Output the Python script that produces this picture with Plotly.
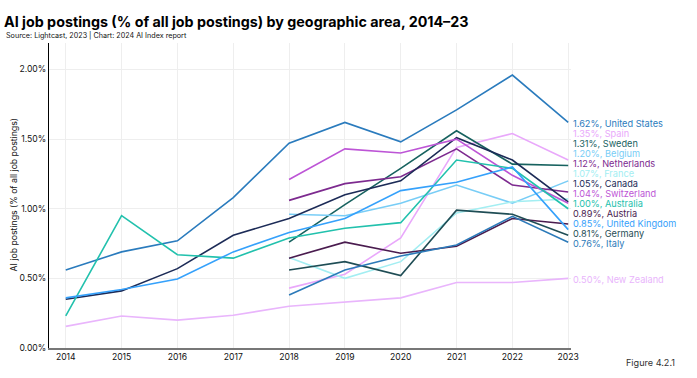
import plotly.graph_objects as go

years = [2014, 2015, 2016, 2017, 2018, 2019, 2020, 2021, 2022, 2023]

united_states = [0.56, 0.69, 0.77, 1.08, 1.47, 1.62, 1.48, 1.71, 1.96, 1.62]
spain = [None, None, None, None, 0.43, 0.53, 0.79, 1.44, 1.54, 1.35]
sweden = [None, None, None, None, 0.76, 1.03, 1.29, 1.56, 1.32, 1.31]
belgium = [None, None, None, None, 0.96, 0.95, 1.04, 1.17, 1.04, 1.20]
netherlands = [None, None, None, None, 1.06, 1.18, 1.23, 1.43, 1.17, 1.12]
france = [None, None, None, None, 0.65, 0.50, 0.62, 0.97, 1.05, 1.07]
canada = [0.35, 0.41, 0.57, 0.81, 0.93, 1.10, 1.20, 1.51, 1.35, 1.05]
switzerland = [None, None, None, None, 1.21, 1.43, 1.40, 1.50, 1.24, 1.04]
australia = [0.23, 0.95, 0.67, 0.645, 0.79, 0.86, 0.90, 1.35, 1.29, 1.00]
austria = [None, None, None, None, 0.645, 0.76, 0.68, 0.73, 0.93, 0.89]
united_kingdom = [0.36, 0.42, 0.495, 0.69, 0.83, 0.93, 1.13, 1.19, 1.30, 0.85]
germany = [None, None, None, None, 0.56, 0.62, 0.52, 0.99, 0.96, 0.81]
italy = [None, None, None, None, 0.38, 0.56, 0.66, 0.74, 0.945, 0.76]
new_zealand = [0.155, 0.23, 0.20, 0.235, 0.30, 0.33, 0.36, 0.47, 0.47, 0.50]

y_ticks = [0, 0.5, 1.0, 1.5, 2.0]
y_tick_labels = ["0.00%", "0.50%", "1.00%", "1.50%", "2.00%"]

series = [
    ("United States", united_states, "#2a7bbd"),
    ("Spain", spain, "#e9a8fb"),
    ("Sweden", sweden, "#17625f"),
    ("Belgium", belgium, "#78cdf6"),
    ("Netherlands", netherlands, "#7d2a8f"),
    ("France", france, "#a3eef2"),
    ("Canada", canada, "#1c2b57"),
    ("Switzerland", switzerland, "#bd55d6"),
    ("Australia", australia, "#22c1ad"),
    ("Austria", austria, "#4a1c4f"),
    ("United Kingdom", united_kingdom, "#35a1fb"),
    ("Germany", germany, "#1f4d55"),
    ("Italy", italy, "#2c7ab9"),
    ("New Zealand", new_zealand, "#e9b5fc"),
]

FONT = "Inter, Liberation Sans, Arial, sans-serif"
Y_MAX = 2.19
PLOT_H = 305.0
SPACING = 10.0 / PLOT_H * Y_MAX  # label spacing in data units

fig = go.Figure()
for name, vals, color in series:
    fig.add_trace(go.Scatter(x=years, y=vals, mode="lines", name=name,
                             line=dict(color=color, width=1.6),
                             connectgaps=False, showlegend=False))

# end labels, dodged upward from the lowest
ordered = sorted(series, key=lambda s: s[1][-1])
label_pos = {}
prev = None
for name, vals, color in ordered:
    y = vals[-1]
    if prev is not None and y < prev + SPACING:
        y = prev + SPACING
    label_pos[name] = y
    prev = y

annotations = []
for name, vals, color in series:
    annotations.append(dict(
        x=years[-1], y=label_pos[name], xref="x", yref="y",
        text=f"{vals[-1]:.2f}%, {name}", showarrow=False,
        xanchor="left", yanchor="middle", xshift=4, yshift=-1,
        borderpad=0,
        font=dict(family=FONT, size=9.2, color=color)))

annotations.append(dict(
    x=-0.0865, y=1.026, xref="paper", yref="paper",
    text="Source: Lightcast, 2023 | Chart: 2024 AI Index report",
    showarrow=False, xanchor="left", yanchor="middle",
    font=dict(family=FONT, size=7.2, color="#111111")))
annotations.append(dict(
    x=-0.068, y=0.502, xref="paper", yref="paper",
    text="AI job postings (% of all job postings)", textangle=-90,
    showarrow=False, xanchor="center", yanchor="middle",
    font=dict(family=FONT, size=8.7, color="#111111")))
annotations.append(dict(
    x=1.203, y=-0.046, xref="paper", yref="paper",
    text="Figure 4.2.1", showarrow=False, xanchor="right", yanchor="middle",
    font=dict(family=FONT, size=9.1, color="#333333")))

fig.update_layout(
    width=697, height=378,
    margin=dict(l=49, r=126, t=43, b=30),
    paper_bgcolor="white", plot_bgcolor="white",
    title=dict(text="<b>AI job postings (% of all job postings) by geographic area, 2014–23</b>",
               x=4 / 697, xref="container", xanchor="left",
               y=1 - 22 / 378, yref="container", yanchor="middle",
               font=dict(family=FONT, size=14.3, color="#000000")),
    annotations=annotations,
    xaxis=dict(range=[2013.7, 2023.05], tickmode="array", tickvals=years,
               ticktext=[str(y) for y in years],
               showgrid=True, gridcolor="#eeeeee", gridwidth=1,
               showline=True, linecolor="#777777", linewidth=2,
               ticks="", zeroline=False,
               tickfont=dict(family=FONT, size=8.6, color="#111111")),
    yaxis=dict(range=[0, Y_MAX], tickmode="array", tickvals=y_ticks,
               ticktext=y_tick_labels,
               showgrid=True, gridcolor="#eeeeee", gridwidth=1,
               showline=True, linecolor="#000000", linewidth=1.2,
               ticks="", zeroline=False,
               tickfont=dict(family=FONT, size=8.6, color="#111111")),
)

fig.write_html("out.html", config={"displayModeBar": False},
               post_script="document.body.style.margin='0px';")
